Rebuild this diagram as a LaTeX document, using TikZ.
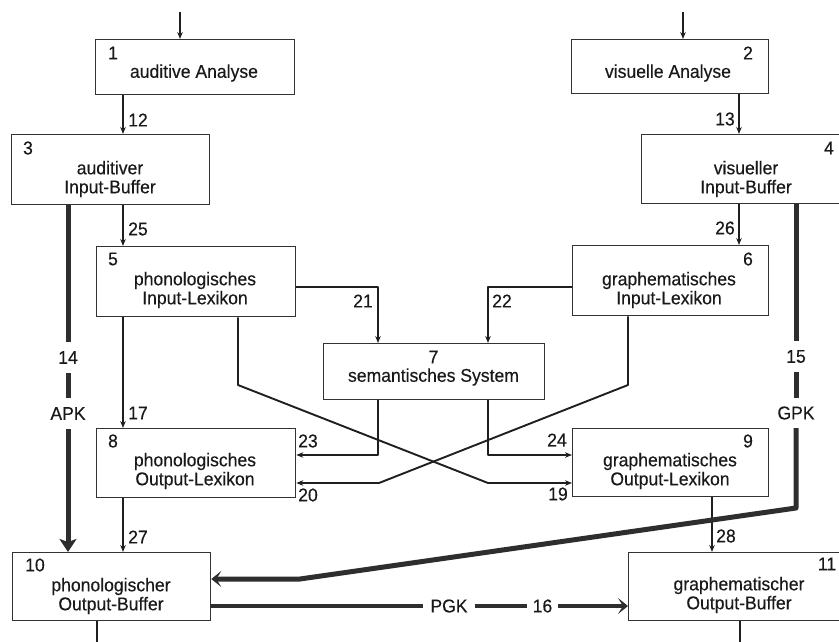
\documentclass[tikz,border=0pt]{standalone}
\usepackage{fontspec}
\setmainfont[FakeStretch=0.95,FakeBold=0.35]{Liberation Sans}
\usetikzlibrary{arrows.meta}
\begin{document}
\begin{tikzpicture}[x=1pt,y=-1pt,
  every node/.style={font=\fontsize{18.5}{19}\selectfont, text=black!90},
  box/.style={draw=black!80, line width=1.3pt, rectangle, inner sep=0pt, anchor=north west},
  txt/.style={align=center, inner sep=0pt},
  num/.style={inner sep=0pt},
  link/.style={draw=black!88, line width=1.9pt, line join=round,
               -{Stealth[length=7pt,width=5.5pt]}},
  route/.style={draw=black!82, line width=5pt, line join=round},
  bigtip/.style={-{Stealth[length=13pt,width=17pt,inset=3pt]}},
  chevron/.style={-{Stealth[length=10pt,width=16pt,inset=5pt]}},
]
\useasboundingbox (0,0) rectangle (839,641);
\clip (0,0) rectangle (839,641);

% ---------- boxes ----------
\node[box, minimum width=199pt, minimum height=55pt] (b1) at (95,39) {};
\node[box, minimum width=197pt, minimum height=54pt] (b2) at (571,39) {};
\node[box, minimum width=198pt, minimum height=70pt] (b3) at (11,134) {};
\node[box, minimum width=210pt, minimum height=69pt] (b4) at (641,134) {};
\node[box, minimum width=199pt, minimum height=70pt] (b5) at (96,246) {};
\node[box, minimum width=196pt, minimum height=70pt] (b6) at (572,245) {};
\node[box, minimum width=221pt, minimum height=56pt] (b7) at (323,343) {};
\node[box, minimum width=199pt, minimum height=69pt] (b8) at (96,428) {};
\node[box, minimum width=196pt, minimum height=68pt] (b9) at (572,428) {};
\node[box, minimum width=198pt, minimum height=68pt] (b10) at (12,552) {};
\node[box, minimum width=222pt, minimum height=68pt] (b11) at (628,552) {};

% ---------- box texts ----------
\node[txt] (t1) at (194,73) {auditive Analyse};
\node[txt] (t2) at (668,73) {visuelle Analyse};
\node[txt] (t3) at (110,179) {auditiver\\Input-Buffer};
\node[txt] (t4) at (746,179) {visueller\\Input-Buffer};
\node[txt] (t5) at (195,290) {phonologisches\\Input-Lexikon};
\node[txt] (t6) at (669,290) {graphematisches\\Input-Lexikon};
\node[txt] (t7) at (433.5,377) {semantisches System};
\node[txt] (t8) at (195,471) {phonologisches\\Output-Lexikon};
\node[txt] (t9) at (670,471) {graphematisches\\Output-Lexikon};
\node[txt] (t10) at (111,596) {phonologischer\\Output-Buffer};
\node[txt] (t11) at (739,595) {graphematischer\\Output-Buffer};

% ---------- box numbers ----------
\node[num] (k1) at (113,53) {1};
\node[num] (k2) at (748,53) {2};
\node[num] (k3) at (28,148) {3};
\node[num] (k4) at (829,148) {4};
\node[num] (k5) at (113,259) {5};
\node[num] (k6) at (748,259) {6};
\node[num] (k7) at (433.5,357) {7};
\node[num] (k8) at (113,441) {8};
\node[num] (k9) at (748,441) {9};
\node[num] (k10) at (35,565) {10};
\node[num] (k11) at (827,564) {11};

% ---------- columns and rows of the routes ----------
\coordinate (cA) at (123,0);
\coordinate (cB) at (739,0);
\coordinate (cAPK) at (68,0);
\coordinate (cGPK) at (796,0);
\coordinate (c21) at (378,0);
\coordinate (c22) at (488,0);
\coordinate (c19) at (238,0);
\coordinate (c20) at (628,0);
\coordinate (c28) at (712,0);
\coordinate (o1) at (97,650);
\coordinate (o2) at (740,650);
\coordinate (in1) at (180,12);
\coordinate (in2) at (683,12);
\coordinate (r21) at (0,287);
\coordinate (r23) at (0,455);
\coordinate (rbend) at (0,385);
\coordinate (k19) at (488,483);
\coordinate (k20) at (379,483);
\coordinate (rPGK) at (0,606);
\coordinate (kG1) at (796,508);
\coordinate (kG2) at (300,579);

% ---------- thin routes ----------
\draw[link] (in1) -- (in1 |- b1.north);
\draw[link] (in2) -- (in2 |- b2.north);
\draw[link] (b1.south -| cA) -- (b3.north -| cA);
\draw[link] (b2.south -| cB) -- (b4.north -| cB);
\draw[link] (b3.south -| cA) -- (b5.north -| cA);
\draw[link] (b4.south -| cB) -- (b6.north -| cB);
\draw[link] (b5.east |- r21) -- (c21 |- r21) -- (c21 |- b7.north);
\draw[link] (b6.west |- r21) -- (c22 |- r21) -- (c22 |- b7.north);
\draw[link] (b5.south -| cA) -- (b8.north -| cA);
\draw[link] (c21 |- b7.south) -- (c21 |- r23) -- (b8.east |- r23);
\draw[link] (c22 |- b7.south) -- (c22 |- r23) -- (b9.west |- r23);
\draw[link] (c19 |- b5.south) -- (c19 |- rbend) -- (k19) -- (b9.west |- k19);
\draw[link] (c20 |- b6.south) -- (c20 |- rbend) -- (k20) -- (b8.east |- k20);
\draw[link] (b8.south -| cA) -- (b10.north -| cA);
\draw[link] (b9.south -| c28) -- (b11.north -| c28);
\draw[draw=black!88, line width=1.9pt] (b10.south -| o1) -- (o1);
\draw[draw=black!88, line width=1.9pt] (b11.south -| o2) -- (o2);

% ---------- route labels ----------
\node[num] (n12) at (138,120) {12};
\node[num] (n13) at (725,119) {13};
\node[num] (n25) at (138,229) {25};
\node[num] (n26) at (725,228) {26};
\node[num] (n21) at (363,301) {21};
\node[num] (n22) at (502,301) {22};
\node[num] (n17) at (138,413) {17};
\node[num] (n23) at (308,441) {23};
\node[num] (n24) at (557,440) {24};
\node[num] (n20) at (308,495) {20};
\node[num] (n19) at (558,494) {19};
\node[num] (n27) at (138,537) {27};
\node[num] (n28) at (726,536) {28};

% ---------- thick routes with their labels ----------
\node[num, minimum height=31pt] (l14) at (68,357.5) {14};
\node[num, minimum height=31pt] (lAPK) at (68,413.5) {APK};
\node[num, minimum height=31pt] (l15) at (796,356.5) {15};
\node[num, minimum height=30pt] (lGPK) at (796,413) {GPK};
\node[num, minimum width=52pt] (lPGK) at (449,606) {PGK};
\node[num, minimum width=31pt] (l16) at (542.5,606) {16};

\draw[route] (b3.south -| cAPK) -- (l14.north);
\draw[route] (l14.south) -- (lAPK.north);
\draw[route, bigtip] (lAPK.south) -- (b10.north -| cAPK);

\draw[route] (b4.south -| cGPK) -- (l15.north);
\draw[route] (l15.south) -- (lGPK.north);
\draw[route, chevron] (lGPK.south) -- (kG1) -- (kG2) -- (b10.east |- kG2);

\draw[route, line width=4pt] (b10.east |- rPGK) -- (lPGK.west);
\draw[route, line width=4pt] (lPGK.east) -- (l16.west);
\draw[route, line width=4pt, chevron] (l16.east) -- (b11.west |- rPGK);
\end{tikzpicture}
\end{document}
